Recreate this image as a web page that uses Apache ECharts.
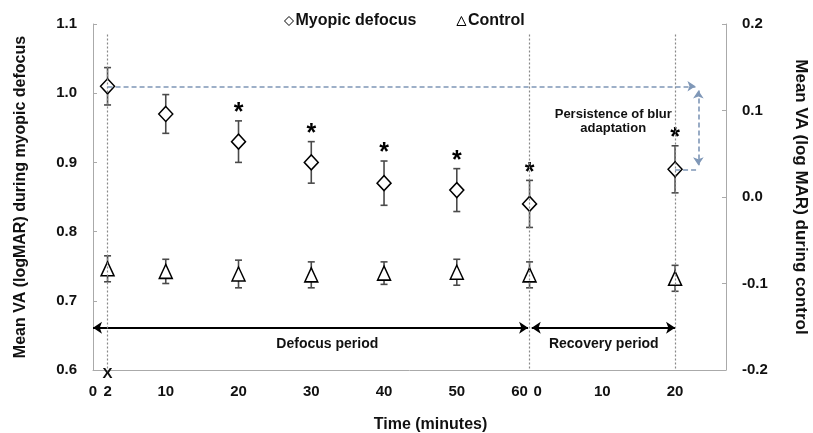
<!DOCTYPE html>
<html>
<head>
<meta charset="utf-8">
<script src="https://cdn.jsdelivr.net/npm/echarts@6/dist/echarts.min.js"></script>
<style>
html,body{margin:0;padding:0;background:#fff;}
#chart{width:813px;height:433px;}
</style>
</head>
<body>
<div id="chart"></div>
<script>
// ---- data ----
const timePoints = [2, 10, 20, 30, 40, 50, 60, 80]; // 80 = recovery 20 min (60 + 20)
const myopicMean = [1.01, 0.97, 0.93, 0.90, 0.87, 0.86, 0.84, 0.89];
const myopicErr  = [0.027, 0.028, 0.030, 0.030, 0.032, 0.031, 0.034, 0.034];
const controlMean = [-0.083, -0.086, -0.089, -0.090, -0.088, -0.087, -0.090, -0.094];
const controlErr  = [0.015, 0.014, 0.016, 0.015, 0.013, 0.015, 0.015, 0.015];
const significant = [0, 0, 1, 1, 1, 1, 1, 1];
const defocusTicks = [0, 2, 10, 20, 30, 40, 50, 60];
const recoveryTicks = [0, 10, 20];
const recoveryOffset = 60;
const dividerTimes = [2, 60, 80];
const seriesNames = ['Myopic defocus', 'Control'];

const FONT = 'Liberation Sans, Arial, sans-serif';

const myopicPts = timePoints.map((t, i) => [t, myopicMean[i]]);
const controlPts = timePoints.map((t, i) => [t, controlMean[i]]);
const myopicBars = timePoints.map((t, i) => [t, myopicMean[i] - myopicErr[i], myopicMean[i] + myopicErr[i], significant[i]]);
const controlBars = timePoints.map((t, i) => [t, controlMean[i] - controlErr[i], controlMean[i] + controlErr[i], 0]);

function errRender(params, api) {
  const x = api.value(0);
  const lo = api.coord([x, api.value(1)]);
  const hi = api.coord([x, api.value(2)]);
  const w = 3.5;
  const style = { stroke: '#4a4a4a', lineWidth: 1.6 };
  const children = [
    { type: 'line', shape: { x1: lo[0], y1: lo[1], x2: hi[0], y2: hi[1] }, style },
    { type: 'line', shape: { x1: lo[0] - w, y1: lo[1], x2: lo[0] + w, y2: lo[1] }, style },
    { type: 'line', shape: { x1: hi[0] - w, y1: hi[1], x2: hi[0] + w, y2: hi[1] }, style }
  ];
  if (api.value(3)) {
    children.push({ type: 'text', x: hi[0], y: hi[1] + 5,
      style: { text: '*', font: 'bold 25px ' + FONT, fill: '#000', align: 'center', verticalAlign: 'bottom' } });
  }
  return { type: 'group', children };
}

// annotations (data coordinates)
const periodArrows = [
  [[0, 0.661], [59.8, 0.661]],
  [[60.3, 0.661], [80, 0.661]]
];
const textNotes = [
  [32.2, 0.638, 'Defocus period', 14],
  [70.2, 0.638, 'Recovery period', 14],
  [71.5, 0.959, 'Persistence of blur\nadaptation', 13],
  [2, 0.594, 'X', 15]
];
const persistenceArrow = [[2, 1.01], [82.8, 1.01]];
const persistenceBracket = [[83.2, 1.004], [83.2, 0.896]];
const persistenceStub = [[80, 0.89], [83.2, 0.89]];

function textRender(params, api) {
  const p = api.coord([api.value(0), api.value(1)]);
  const d = textNotes[params.dataIndex];
  return { type: 'text', x: p[0], y: p[1],
    style: { text: d[2], font: 'bold ' + d[3] + 'px ' + FONT, fill: '#111', align: 'center', verticalAlign: 'middle', lineHeight: d[3] + 1 } };
}

const chart = echarts.init(document.getElementById('chart'), null, { renderer: 'canvas' });

const labelBase = { fontFamily: FONT, fontWeight: 'bold', fontSize: 15, color: '#111' };

const option = {
  animation: false,
  backgroundColor: '#fff',
  textStyle: { fontFamily: FONT },
  grid: { left: 93, right: 87, top: 24, bottom: 63, containLabel: false, outerBoundsMode: 'none' },
  legend: {
    top: 8, left: 279,
    itemWidth: 9, itemHeight: 9, itemGap: 40,
    textStyle: { fontFamily: FONT, fontWeight: 'bold', fontSize: 16, color: '#111', padding: [0, 0, 0, -3] },
    data: [
      { name: seriesNames[0], icon: 'diamond', itemStyle: { color: '#fff', borderColor: '#000', borderWidth: 1 } },
      { name: seriesNames[1], icon: 'triangle', itemStyle: { color: '#fff', borderColor: '#000', borderWidth: 1 } }
    ]
  },
  xAxis: [
    {
      type: 'value', min: 0, max: 87, position: 'bottom', offset: 0,
      name: 'Time (minutes)', nameLocation: 'middle', nameGap: 47,
      nameTextStyle: { fontFamily: FONT, fontWeight: 'bold', fontSize: 16, color: '#111', padding: [0, 0, 0, 42] },
      axisLine: { show: true, onZero: false, lineStyle: { color: '#aaa', width: 1 } },
      axisTick: { show: false },
      splitLine: { show: false },
      axisLabel: Object.assign({}, labelBase, {
        margin: 14,
        customValues: defocusTicks,
        formatter: v => v === 60 ? '{sl|60}' : String(v),
        rich: { sl: Object.assign({}, labelBase, { padding: [0, 20, 0, 0] }) }
      })
    },
    {
      type: 'value', min: 0, max: 87, position: 'bottom', offset: 0,
      axisLine: { show: false, onZero: false }, axisTick: { show: false }, splitLine: { show: false },
      axisLabel: Object.assign({}, labelBase, {
        margin: 14,
        customValues: recoveryTicks.map(v => v + recoveryOffset),
        formatter: v => { const r = Math.round(v - recoveryOffset); return r === 0 ? '{sr|0}' : String(r); },
        rich: { sr: Object.assign({}, labelBase, { padding: [0, 0, 0, 16] }) }
      })
    }
  ],
  yAxis: [
    {
      type: 'value', min: 0.6, max: 1.1, interval: 0.1, position: 'left',
      name: 'Mean VA (logMAR) during myopic defocus', nameLocation: 'middle', nameGap: 64,
      nameTextStyle: { fontFamily: FONT, fontWeight: 'bold', fontSize: 16, color: '#111' },
      axisLine: { show: true, onZero: false, lineStyle: { color: '#aaa' } },
      axisTick: { show: true, inside: true, length: 4, lineStyle: { color: '#aaa' } },
      splitLine: { show: false },
      axisLabel: Object.assign({}, labelBase, { margin: 16, formatter: v => v.toFixed(1) })
    },
    {
      type: 'value', min: -0.2, max: 0.2, interval: 0.1, position: 'right',
      name: 'Mean VA (log MAR) during control', nameLocation: 'middle', nameGap: 66, nameRotate: -90,
      nameTextStyle: { fontFamily: FONT, fontWeight: 'bold', fontSize: 17, color: '#111' },
      axisLine: { show: true, onZero: false, lineStyle: { color: '#aaa' } },
      axisTick: { show: true, inside: true, length: 4, lineStyle: { color: '#aaa' } },
      splitLine: { show: false },
      axisLabel: Object.assign({}, labelBase, { margin: 16, formatter: v => (Math.abs(v) < 1e-9 ? 0 : v).toFixed(1) })
    }
  ],
  series: [
    { // divider dotted lines (drawn over markers, as in the original)
      type: 'lines', coordinateSystem: 'cartesian2d', xAxisIndex: 0, yAxisIndex: 0, z: 6,
      silent: true, symbol: 'none',
      lineStyle: { color: '#888', width: 1.2, type: [2, 2], opacity: 1 },
      data: dividerTimes.map(t => ({ coords: [[t, 1.085], [t, 0.6]] }))
    },
    { // period arrows
      type: 'lines', coordinateSystem: 'cartesian2d', xAxisIndex: 0, yAxisIndex: 0, z: 2,
      silent: true, symbol: ['arrow', 'arrow'], symbolSize: 9,
      lineStyle: { color: '#000', width: 2, opacity: 1 },
      data: periodArrows.map(c => ({ coords: c }))
    },
    { // persistence arrows
      type: 'lines', coordinateSystem: 'cartesian2d', xAxisIndex: 0, yAxisIndex: 0, z: 6,
      silent: true, symbolSize: 8,
      lineStyle: { color: '#7f97b7', width: 1.6, type: [5, 3], opacity: 1 },
      data: [
        { coords: persistenceArrow, symbol: ['none', 'arrow'] },
        { coords: persistenceBracket, symbol: ['arrow', 'arrow'] },
        { coords: persistenceStub, symbol: ['none', 'none'] }
      ]
    },
    { // text annotations
      type: 'custom', xAxisIndex: 0, yAxisIndex: 0, z: 7, silent: true,
      renderItem: textRender, data: textNotes.map(d => [d[0], d[1]])
    },
    {
      type: 'custom', name: 'myopic-err', xAxisIndex: 0, yAxisIndex: 0, z: 4,
      renderItem: errRender, data: myopicBars, encode: { x: 0, y: [1, 2] }, silent: true
    },
    {
      type: 'custom', name: 'control-err', xAxisIndex: 0, yAxisIndex: 1, z: 4,
      renderItem: errRender, data: controlBars, encode: { x: 0, y: [1, 2] }, silent: true
    },
    {
      name: seriesNames[0], type: 'scatter', xAxisIndex: 0, yAxisIndex: 0, z: 5,
      symbol: 'diamond', symbolSize: [14, 15],
      itemStyle: { color: '#fff', borderColor: '#000', borderWidth: 1.5, opacity: 1 },
      data: myopicPts
    },
    {
      name: seriesNames[1], type: 'scatter', xAxisIndex: 0, yAxisIndex: 1, z: 5,
      symbol: 'triangle', symbolSize: [13, 14],
      itemStyle: { color: '#fff', borderColor: '#000', borderWidth: 1.5, opacity: 1 },
      data: controlPts
    }
  ]
};
chart.setOption(option);
</script>
</body>
</html>
